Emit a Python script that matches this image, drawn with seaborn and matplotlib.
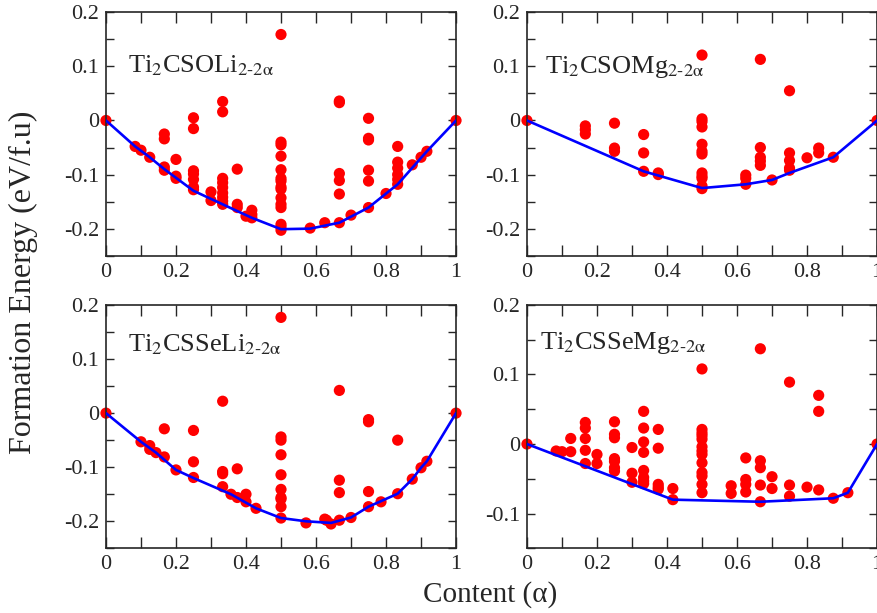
import matplotlib
matplotlib.use("Agg")
import matplotlib.pyplot as plt
import matplotlib.ticker as mticker
import seaborn as sns
import pandas as pd

# ---- data (alpha, formation energy in eV/f.u) ----
# Ti2CSOLi(2-2a)
soli_x = [0, 1, 0.0833, 0.1, 0.125,
          0.1667, 0.1667, 0.1667, 0.1667,
          0.2, 0.2, 0.2,
          0.25, 0.25, 0.25, 0.25, 0.25, 0.25, 0.25,
          0.3, 0.3,
          0.3333, 0.3333, 0.3333, 0.3333, 0.3333, 0.3333, 0.3333, 0.3333, 0.3333,
          0.375, 0.375, 0.375, 0.4, 0.4167, 0.4167, 0.4167,
          0.5, 0.5, 0.5, 0.5, 0.5, 0.5, 0.5, 0.5, 0.5, 0.5, 0.5, 0.5, 0.5, 0.5, 0.5,
          0.5833, 0.625,
          0.6667, 0.6667, 0.6667, 0.6667, 0.6667, 0.6667,
          0.7,
          0.75, 0.75, 0.75, 0.75, 0.75, 0.75,
          0.8,
          0.8333, 0.8333, 0.8333, 0.8333, 0.8333, 0.8333,
          0.875, 0.9, 0.9167]
soli_e = [0, 0, -0.048, -0.055, -0.068,
          -0.025, -0.034, -0.086, -0.092,
          -0.072, -0.103, -0.107,
          0.005, -0.015, -0.093, -0.099, -0.109, -0.123, -0.128,
          -0.132, -0.148,
          0.035, 0.016, -0.107, -0.115, -0.124, -0.134, -0.142, -0.149, -0.155,
          -0.090, -0.155, -0.161, -0.177, -0.166, -0.174, -0.180,
          0.159, -0.040, -0.045, -0.066, -0.091, -0.107, -0.123, -0.127, -0.143,
          -0.155, -0.161, -0.192, -0.197, -0.203, -0.112,
          -0.199, -0.189,
          0.036, 0.033, -0.098, -0.111, -0.136, -0.189,
          -0.175,
          0.004, -0.033, -0.036, -0.092, -0.112, -0.161,
          -0.135,
          -0.048, -0.077, -0.088, -0.100, -0.109, -0.118,
          -0.082, -0.068, -0.057]
soli_hull_x = [0, 0.0833, 0.125, 0.1667, 0.25, 0.3333, 0.4167, 0.5, 0.5833,
               0.6667, 0.75, 0.8333, 0.9167, 1]
soli_hull_e = [0, -0.048, -0.068, -0.090, -0.130, -0.155, -0.180, -0.201, -0.200,
               -0.189, -0.161, -0.118, -0.057, 0]

# Ti2CSOMg(2-2a)
somg_x = [0, 1,
          0.1667, 0.1667, 0.1667,
          0.25, 0.25, 0.25,
          0.3333, 0.3333, 0.3333,
          0.375, 0.375,
          0.5, 0.5, 0.5, 0.5, 0.5, 0.5, 0.5, 0.5, 0.5, 0.5, 0.5, 0.5,
          0.625, 0.625, 0.625,
          0.6667, 0.6667, 0.6667, 0.6667, 0.6667,
          0.7,
          0.75, 0.75, 0.75, 0.75, 0.75,
          0.8, 0.8333, 0.8333, 0.875]
somg_e = [0, 0,
          -0.010, -0.017, -0.025,
          -0.005, -0.051, -0.057,
          -0.026, -0.060, -0.094,
          -0.097, -0.100,
          0.121, 0.003, -0.002, -0.012, -0.044, -0.057, -0.062, -0.097, -0.103,
          -0.107, -0.121, -0.126,
          -0.101, -0.107, -0.118,
          0.113, -0.050, -0.068, -0.075, -0.083,
          -0.110,
          0.055, -0.060, -0.074, -0.088, -0.092,
          -0.069, -0.051, -0.060, -0.068]
somg_hull_x = [0, 0.3333, 0.5, 0.625, 0.7, 0.75, 0.875, 1]
somg_hull_e = [0, -0.094, -0.125, -0.118, -0.110, -0.097, -0.068, 0]

# Ti2CSSeLi(2-2a)
sseli_x = [0, 1, 0.1, 0.125, 0.125, 0.1429,
           0.1667, 0.1667, 0.2,
           0.25, 0.25, 0.25,
           0.3333, 0.3333, 0.3333, 0.3333,
           0.3571, 0.375, 0.375, 0.4, 0.4, 0.4286,
           0.5, 0.5, 0.5, 0.5, 0.5, 0.5, 0.5, 0.5, 0.5, 0.5,
           0.5714, 0.625, 0.63, 0.6429,
           0.6667, 0.6667, 0.6667, 0.6667,
           0.7,
           0.75, 0.75, 0.75, 0.75,
           0.7857, 0.8333, 0.8333, 0.875, 0.9, 0.9167]
sseli_e = [0, 0, -0.053, -0.060, -0.067, -0.073,
           -0.029, -0.081, -0.105,
           -0.032, -0.090, -0.119,
           0.022, -0.108, -0.112, -0.136,
           -0.150, -0.103, -0.156, -0.150, -0.164, -0.176,
           0.177, -0.044, -0.050, -0.077, -0.114, -0.141, -0.156, -0.159, -0.173, -0.194,
           -0.203, -0.196, -0.198, -0.205,
           0.042, -0.124, -0.147, -0.198,
           -0.193,
           -0.012, -0.016, -0.145, -0.173,
           -0.164, -0.050, -0.149, -0.122, -0.101, -0.089]
sseli_hull_x = [0, 0.1, 0.1429, 0.2, 0.25, 0.3571, 0.4286, 0.5, 0.5714, 0.6429,
                0.7, 0.75, 0.8333, 0.875, 0.9, 0.9167, 1]
sseli_hull_e = [0, -0.053, -0.073, -0.105, -0.120, -0.150, -0.176, -0.194, -0.200,
                -0.203, -0.193, -0.173, -0.149, -0.122, -0.101, -0.089, 0]

# Ti2CSSeMg(2-2a)
ssemg_x = [0, 1, 0.0833, 0.1, 0.125, 0.125,
           0.1667, 0.1667, 0.1667, 0.1667, 0.1667,
           0.2, 0.2,
           0.25, 0.25, 0.25, 0.25, 0.25, 0.25, 0.25,
           0.3, 0.3, 0.3,
           0.3333, 0.3333, 0.3333, 0.3333, 0.3333, 0.3333, 0.3333, 0.3333,
           0.375, 0.375, 0.375, 0.375, 0.375,
           0.4167, 0.4167,
           0.5, 0.5, 0.5, 0.5, 0.5, 0.5, 0.5, 0.5, 0.5, 0.5, 0.5, 0.5, 0.5,
           0.5833, 0.5833,
           0.625, 0.625, 0.625, 0.625,
           0.6667, 0.6667, 0.6667, 0.6667, 0.6667,
           0.7, 0.7,
           0.75, 0.75, 0.75,
           0.8, 0.8333, 0.8333, 0.8333, 0.875, 0.9167]
ssemg_e = [0, 0, -0.010, -0.011, 0.008, -0.011,
           0.031, 0.023, 0.008, -0.009, -0.028,
           -0.015, -0.028,
           0.032, 0.014, 0.009, -0.021, -0.025, -0.034, -0.039,
           -0.005, -0.042, -0.055,
           0.047, 0.023, 0.003, -0.012, -0.038, -0.048, -0.053, -0.057,
           0.021, -0.006, -0.058, -0.062, -0.065,
           -0.064, -0.080,
           0.108, 0.021, 0.016, 0.012, 0.007, -0.004, -0.010, -0.015, -0.027,
           -0.041, -0.046, -0.058, -0.070,
           -0.060, -0.071,
           -0.020, -0.051, -0.058, -0.069,
           0.137, -0.024, -0.034, -0.059, -0.083,
           -0.047, -0.064,
           0.089, -0.059, -0.075,
           -0.062, 0.070, 0.047, -0.066, -0.078, -0.070]
ssemg_hull_x = [0, 0.4167, 0.6667, 0.875, 0.9167, 1]
ssemg_hull_e = [0, -0.080, -0.083, -0.078, -0.070, 0]

panel_names = [r"Ti$_2$CSOLi$_{\text{2-2α}}$", r"Ti$_2$CSOMg$_{\text{2-2α}}$",
               r"Ti$_2$CSSeLi$_{\text{2-2α}}$", r"Ti$_2$CSSeMg$_{\text{2-2α}}$"]
panels = [(soli_x, soli_e, soli_hull_x, soli_hull_e),
          (somg_x, somg_e, somg_hull_x, somg_hull_e),
          (sseli_x, sseli_e, sseli_hull_x, sseli_hull_e),
          (ssemg_x, ssemg_e, ssemg_hull_x, ssemg_hull_e)]
ylims = [(-0.25, 0.2), (-0.25, 0.2), (-0.25, 0.2), (-0.15, 0.2)]
label_pos = [(0.063, 0.088), (0.051, 0.088), (0.063, 0.115), (0.037, 0.136)]

sns.set_style("ticks")
plt.rcParams["font.family"] = ["Liberation Serif", "DejaVu Serif"]
plt.rcParams["mathtext.fontset"] = "stix"
plt.rcParams["axes.unicode_minus"] = False

fig = plt.figure(figsize=(8.78, 6.13), dpi=100)
boxes = [(0.1207, 0.5829), (0.6002, 0.5829), (0.1207, 0.1055), (0.6002, 0.1055)]
fmt = mticker.FuncFormatter(lambda v, p: "%g" % round(v, 3))

for i, (px, pe, hx, he) in enumerate(panels):
    ax = fig.add_axes([boxes[i][0], boxes[i][1], 0.3987, 0.3970])
    pts = pd.DataFrame({"alpha": px, "energy": pe})
    hull = pd.DataFrame({"alpha": hx, "energy": he})
    sns.lineplot(data=hull, x="alpha", y="energy", color="#0000ff", lw=1.9,
                 ax=ax, sort=False, zorder=3)
    sns.scatterplot(data=pts, x="alpha", y="energy", color="#ff0000", s=65,
                    edgecolor="none", ax=ax, zorder=2, clip_on=False)
    ax.set_xlim(0, 1)
    ax.set_ylim(*ylims[i])
    ax.xaxis.set_major_locator(mticker.MultipleLocator(0.2))
    ax.xaxis.set_minor_locator(mticker.MultipleLocator(0.1))
    ax.yaxis.set_major_locator(mticker.MultipleLocator(0.1))
    ax.yaxis.set_minor_locator(mticker.MultipleLocator(0.05))
    ax.xaxis.set_major_formatter(fmt)
    ax.yaxis.set_major_formatter(fmt)
    ax.tick_params(which="both", direction="in", top=True, right=True,
                   length=6, width=1.0, labelsize=16, pad=5)
    ax.tick_params(axis="x", which="both", length=8)
    for s in ax.spines.values():
        s.set_linewidth(1.2)
    ax.set_xlabel("")
    ax.set_ylabel("")
    ax.text(label_pos[i][0], label_pos[i][1], panel_names[i], fontsize=19,
            va="baseline", ha="left")

fig.text(0.558, 0.03, "Content (α)", fontsize=21, ha="center", va="center")
fig.text(0.027, 0.54, "Formation Energy (eV/f.u)", fontsize=23, rotation=90,
         ha="center", va="center")

fig.savefig("out.png", dpi=100)
